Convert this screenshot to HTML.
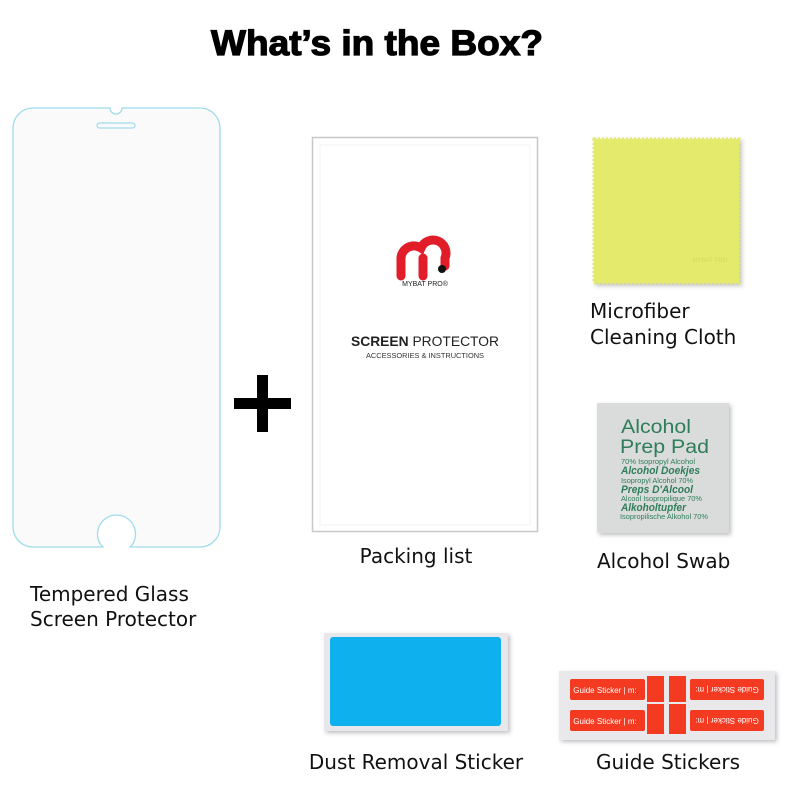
<!DOCTYPE html>
<html><head><meta charset="utf-8"><style>
html,body{margin:0;padding:0;background:#fff;width:800px;height:800px;overflow:hidden}
svg{display:block}
text{font-family:"Liberation Sans","DejaVu Sans",sans-serif}
.lbl{font-family:"DejaVu Sans","Liberation Sans",sans-serif;font-size:20px;fill:#111}
</style></head><body>
<svg width="800" height="800" viewBox="0 0 800 800" xmlns="http://www.w3.org/2000/svg">
<defs>
<filter id="sh" x="-10%" y="-10%" width="130%" height="130%"><feDropShadow dx="2" dy="2" stdDeviation="2" flood-color="#000" flood-opacity="0.25"/></filter>
</defs>
<text x="377" y="55" text-anchor="middle" font-size="35" font-weight="bold" stroke="#000" stroke-width="1.2" textLength="332" lengthAdjust="spacingAndGlyphs">What’s in the Box?</text>

<!-- phone glass -->
<path d="M33,108 H110 A6,6 0 0 0 122,108 H200 A20,20 0 0 1 220,128 V527 A20,20 0 0 1 200,547 H130 L132,545 A19,19 0 1 0 101,545 L103,547 H33 A20,20 0 0 1 13,527 V128 A20,20 0 0 1 33,108 Z" fill="#fafafa" stroke="#9fdcec" stroke-width="1.3"/>
<rect x="97" y="123" width="38" height="5" rx="2.5" fill="none" stroke="#9fdcec" stroke-width="1.2"/>

<!-- plus -->
<rect x="234" y="398" width="57" height="11" fill="#000"/>
<rect x="257" y="375" width="11" height="57" fill="#000"/>

<!-- packing list -->
<rect x="312.5" y="137.5" width="225" height="394" fill="#fff" stroke="#c8c8c8" stroke-width="1.5"/>
<rect x="320" y="145" width="210" height="380" fill="none" stroke="#f3f3f3" stroke-width="1"/>
<path d="M401,276 V258 A13,13 0 0 1 421,248 A13,13 0 0 1 445,258 V266" fill="none" stroke="#e21d2a" stroke-width="9" stroke-linecap="round"/>
<line x1="423" y1="258" x2="423" y2="276" stroke="#e21d2a" stroke-width="9" stroke-linecap="round"/>
<circle cx="442" cy="269" r="4" fill="#111"/>
<text x="425" y="286" text-anchor="middle" font-size="7" fill="#222">MYBAT PRO®</text>
<text x="425" y="346" text-anchor="middle" font-size="14" fill="#222" textLength="148" lengthAdjust="spacingAndGlyphs"><tspan font-weight="bold">SCREEN</tspan> PROTECTOR</text>
<text x="425" y="358" text-anchor="middle" font-size="7" fill="#333" textLength="118" lengthAdjust="spacingAndGlyphs">ACCESSORIES &amp; INSTRUCTIONS</text>
<text class="lbl" x="416" y="563" text-anchor="middle">Packing list</text>

<!-- cloth -->
<rect x="594" y="139" width="145" height="144" fill="#e2e86a" stroke="#e2e86a" stroke-width="3" stroke-dasharray="2 2" filter="url(#sh)"/>
<rect x="594" y="139" width="145" height="144" fill="#e4ea6c"/>
<text x="710" y="262" text-anchor="middle" font-size="6" fill="#d3da5c">MYBAT PRO</text>
<text class="lbl" x="590" y="318">Microfiber</text>
<text class="lbl" x="590" y="344">Cleaning Cloth</text>

<!-- alcohol pad -->
<rect x="597" y="403" width="132" height="130" fill="#d9dcdb" filter="url(#sh)"/>
<g fill="#2f7d5a">
<text x="621" y="433" font-size="19" textLength="70" lengthAdjust="spacingAndGlyphs">Alcohol</text>
<text x="620" y="453" font-size="19" textLength="89" lengthAdjust="spacingAndGlyphs">Prep Pad</text>
<text x="621" y="464" font-size="7.5" textLength="74" lengthAdjust="spacingAndGlyphs">70% Isopropyl Alcohol</text>
<text x="621" y="474" font-size="11" font-weight="bold" font-style="italic" textLength="79" lengthAdjust="spacingAndGlyphs">Alcohol Doekjes</text>
<text x="621" y="483" font-size="7.5" textLength="72" lengthAdjust="spacingAndGlyphs">Isopropyl Alcohol 70%</text>
<text x="621" y="493" font-size="11" font-weight="bold" font-style="italic" textLength="72" lengthAdjust="spacingAndGlyphs">Preps D'Alcool</text>
<text x="621" y="501" font-size="7.5" textLength="81" lengthAdjust="spacingAndGlyphs">Alcool Isopropilique 70%</text>
<text x="621" y="511" font-size="11" font-weight="bold" font-style="italic" textLength="65" lengthAdjust="spacingAndGlyphs">Alkoholtupfer</text>
<text x="620" y="519" font-size="7.5" textLength="88" lengthAdjust="spacingAndGlyphs">Isopropilische Alkohol 70%</text>
</g>
<text class="lbl" x="597" y="568">Alcohol Swab</text>

<text class="lbl" x="30" y="601">Tempered Glass</text>
<text class="lbl" x="30" y="626">Screen Protector</text>

<!-- dust sticker -->
<rect x="324" y="633" width="184" height="98" fill="#e8e8ec" filter="url(#sh)"/>
<rect x="330" y="637" width="171" height="89" rx="3" fill="#0fb0ee"/>
<text class="lbl" x="416" y="769" text-anchor="middle">Dust Removal Sticker</text>

<!-- guide stickers -->
<rect x="559" y="671" width="216" height="69" fill="#e9e9ec" filter="url(#sh)"/>
<g fill="#f53a22">
<rect x="570" y="679" width="75" height="21" rx="2"/>
<rect x="570" y="710" width="75" height="21" rx="2"/>
<rect x="647" y="676" width="17" height="26"/>
<rect x="647" y="704" width="17" height="30"/>
<rect x="669" y="676" width="17" height="26"/>
<rect x="669" y="704" width="17" height="30"/>
<rect x="690" y="679" width="74" height="21" rx="2"/>
<rect x="690" y="710" width="74" height="21" rx="2"/>
</g>
<g fill="#fff" font-size="8" text-anchor="middle">
<text x="605" y="693">Guide Sticker | m:</text>
<text x="605" y="724">Guide Sticker | m:</text>
<text x="727" y="693" transform="rotate(180 727 690)">Guide Sticker | m:</text>
<text x="727" y="724" transform="rotate(180 727 721)">Guide Sticker | m:</text>
</g>
<text class="lbl" x="668" y="769" text-anchor="middle">Guide Stickers</text>
</svg>
</body></html>
